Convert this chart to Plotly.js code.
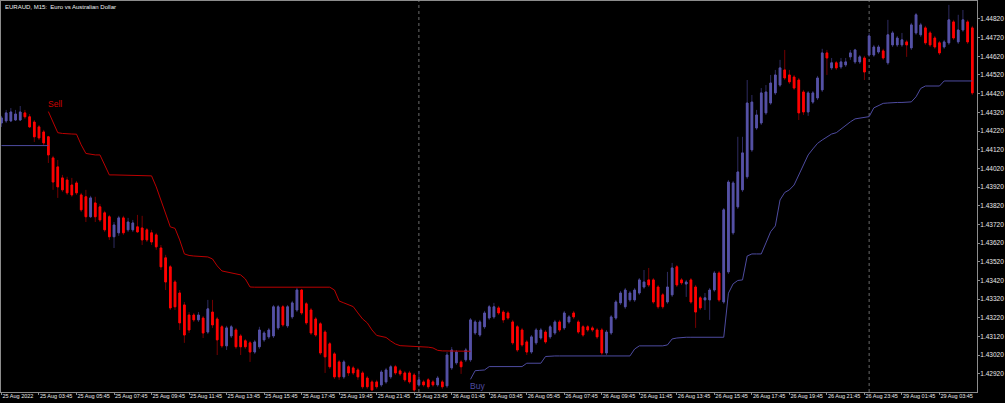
<!DOCTYPE html>
<html><head><meta charset="utf-8">
<script src="https://cdn.plot.ly/plotly-3.0.1.min.js"></script>
<style>html,body{margin:0;padding:0;background:#000;}#chart{width:1005px;height:403px;}</style>
</head><body><div id="chart"></div>
<script>
const openP = [1.44263,1.44274,1.44274,1.44279,1.44279,1.44317,1.44296,1.44268,1.44242,1.44215,
1.44189,1.44076,1.44028,1.43969,1.43958,1.43931,1.43942,1.43878,1.43868,1.43761,
1.43835,1.43814,1.43782,1.43761,1.43654,1.43675,1.43755,1.43691,1.43691,1.43707,
1.43701,1.43691,1.43675,1.43664,1.43594,1.43541,1.43493,1.43412,1.43353,1.43289,
1.43235,1.43235,1.43209,1.43219,1.43144,1.43251,1.43214,1.43172,1.43070,1.43123,
1.43155,1.43123,1.43097,1.43086,1.43037,1.43065,1.43102,1.43118,1.43123,1.43166,
1.43279,1.43177,1.43225,1.43262,1.43369,1.43295,1.43262,1.43214,1.43188,1.43144,
1.43081,1.43027,1.42984,1.42904,1.42958,1.42952,1.42941,1.42925,1.42898,1.42877,
1.42877,1.42861,1.42877,1.42904,1.42958,1.42936,1.42925,1.42925,1.42914,1.42861,
1.42877,1.42888,1.42877,1.42861,1.42877,1.42856,1.42952,1.42979,1.42984,1.42995,
1.42995,1.43139,1.43128,1.43172,1.43219,1.43225,1.43273,1.43251,1.43246,1.43198,
1.43172,1.43155,1.43091,1.43037,1.43086,1.43112,1.43144,1.43118,1.43139,1.43198,
1.43166,1.43198,1.43246,1.43198,1.43172,1.43172,1.43166,1.43155,1.43155,1.43032,
1.43139,1.43219,1.43300,1.43279,1.43316,1.43316,1.43353,1.43385,1.43423,1.43423,
1.43385,1.43343,1.43305,1.43343,1.43493,1.43423,1.43401,1.43423,1.43385,1.43327,
1.43316,1.43316,1.43369,1.43460,1.43305,1.43466,1.43675,1.43814,1.43905,1.43975,
1.44119,1.44236,1.44263,1.44317,1.44370,1.44424,1.44466,1.44547,1.44520,1.44509,
1.44493,1.44429,1.44322,1.44375,1.44397,1.44440,1.44638,1.44558,1.44585,1.44563,
1.44574,1.44617,1.44590,1.44590,1.44611,1.44627,1.44627,1.44643,1.44649,1.44585,
1.44681,1.44681,1.44681,1.44697,1.44665,1.44745,1.44735,1.44772,1.44745,1.44718,
1.44692,1.44670,1.44692,1.44804,1.44697,1.44761,1.44804,1.44772];

const highP = [1.44301,1.44333,1.44343,1.44333,1.44354,1.44333,1.44311,1.44279,1.44252,1.44226,
1.44194,1.44087,1.44065,1.43985,1.43975,1.43969,1.43953,1.43889,1.43905,1.43873,
1.43868,1.43830,1.43793,1.43771,1.43733,1.43766,1.43766,1.43755,1.43744,1.43771,
1.43766,1.43701,1.43691,1.43675,1.43610,1.43557,1.43503,1.43423,1.43369,1.43305,
1.43251,1.43246,1.43251,1.43230,1.43316,1.43316,1.43225,1.43182,1.43177,1.43182,
1.43166,1.43134,1.43107,1.43097,1.43102,1.43172,1.43150,1.43166,1.43289,1.43289,
1.43289,1.43289,1.43311,1.43380,1.43375,1.43305,1.43273,1.43225,1.43198,1.43155,
1.43091,1.43037,1.42995,1.42995,1.42968,1.42963,1.42952,1.42936,1.42909,1.42888,
1.42888,1.42941,1.42952,1.42968,1.42968,1.42947,1.42936,1.42936,1.42925,1.42936,
1.42888,1.42898,1.42888,1.42909,1.42888,1.43037,1.43064,1.43048,1.42995,1.43059,
1.43219,1.43209,1.43209,1.43257,1.43289,1.43300,1.43284,1.43262,1.43257,1.43209,
1.43182,1.43166,1.43102,1.43128,1.43166,1.43166,1.43155,1.43182,1.43209,1.43209,
1.43257,1.43235,1.43257,1.43209,1.43182,1.43182,1.43177,1.43166,1.43166,1.43155,
1.43235,1.43316,1.43364,1.43380,1.43364,1.43380,1.43433,1.43476,1.43487,1.43433,
1.43396,1.43353,1.43466,1.43514,1.43503,1.43433,1.43423,1.43433,1.43396,1.43337,
1.43353,1.43380,1.43471,1.43471,1.43808,1.43958,1.43953,1.44189,1.44189,1.44493,
1.44413,1.44333,1.44450,1.44466,1.44520,1.44547,1.44601,1.44654,1.44547,1.44520,
1.44504,1.44440,1.44434,1.44434,1.44515,1.44660,1.44654,1.44611,1.44595,1.44611,
1.44611,1.44654,1.44660,1.44627,1.44622,1.44745,1.44681,1.44681,1.44660,1.44815,
1.44756,1.44729,1.44745,1.44708,1.44799,1.44852,1.44799,1.44783,1.44756,1.44729,
1.44702,1.44708,1.44895,1.44815,1.44842,1.44868,1.44815,1.44783];

const lowP = [1.44242,1.44263,1.44268,1.44274,1.44274,1.44285,1.44236,1.44161,1.44172,1.44140,
1.44049,1.43905,1.43862,1.43894,1.43878,1.43868,1.43878,1.43787,1.43733,1.43755,
1.43733,1.43733,1.43680,1.43637,1.43594,1.43659,1.43664,1.43680,1.43680,1.43675,
1.43610,1.43626,1.43610,1.43584,1.43476,1.43369,1.43262,1.43262,1.43155,1.43086,
1.43139,1.43198,1.43198,1.43112,1.43134,1.43166,1.43021,1.43059,1.43048,1.43112,
1.43054,1.43021,1.43054,1.42984,1.43027,1.43054,1.43091,1.43107,1.43112,1.43155,
1.43172,1.43166,1.43214,1.43251,1.43235,1.43182,1.43128,1.43118,1.43021,1.42925,
1.42947,1.42893,1.42888,1.42893,1.42909,1.42914,1.42888,1.42840,1.42840,1.42829,
1.42840,1.42851,1.42867,1.42893,1.42914,1.42909,1.42877,1.42867,1.42823,1.42851,
1.42851,1.42840,1.42851,1.42851,1.42840,1.42845,1.42941,1.42968,1.42920,1.42984,
1.42984,1.43128,1.43118,1.43161,1.43209,1.43214,1.43235,1.43193,1.43209,1.43075,
1.43037,1.43065,1.43021,1.43027,1.43075,1.43102,1.43081,1.43107,1.43128,1.43144,
1.43155,1.43188,1.43214,1.43134,1.43118,1.43144,1.43144,1.43107,1.43021,1.43021,
1.43128,1.43209,1.43289,1.43268,1.43305,1.43305,1.43343,1.43375,1.43385,1.43295,
1.43268,1.43268,1.43295,1.43332,1.43385,1.43396,1.43332,1.43295,1.43166,1.43262,
1.43262,1.43209,1.43359,1.43305,1.43295,1.43455,1.43664,1.43803,1.43894,1.43964,
1.44108,1.44226,1.44252,1.44306,1.44360,1.44413,1.44456,1.44493,1.44472,1.44440,
1.44279,1.44306,1.44301,1.44365,1.44386,1.44429,1.44520,1.44547,1.44547,1.44552,
1.44563,1.44601,1.44579,1.44579,1.44493,1.44617,1.44617,1.44633,1.44601,1.44574,
1.44670,1.44670,1.44670,1.44617,1.44654,1.44735,1.44724,1.44681,1.44670,1.44660,
1.44627,1.44660,1.44681,1.44708,1.44686,1.44751,1.44686,1.44413];

const closeP = [1.44290,1.44317,1.44322,1.44311,1.44322,1.44296,1.44242,1.44189,1.44183,1.44156,
1.44092,1.43947,1.43921,1.43905,1.43889,1.43878,1.43889,1.43798,1.43761,1.43862,
1.43761,1.43744,1.43691,1.43654,1.43717,1.43755,1.43675,1.43733,1.43728,1.43680,
1.43637,1.43637,1.43626,1.43600,1.43493,1.43412,1.43273,1.43279,1.43193,1.43128,
1.43155,1.43209,1.43235,1.43139,1.43268,1.43182,1.43102,1.43070,1.43166,1.43172,
1.43065,1.43065,1.43065,1.43037,1.43091,1.43155,1.43139,1.43155,1.43279,1.43279,
1.43182,1.43279,1.43300,1.43369,1.43246,1.43193,1.43139,1.43128,1.43032,1.43011,
1.42958,1.42904,1.42904,1.42984,1.42925,1.42925,1.42904,1.42851,1.42851,1.42834,
1.42851,1.42930,1.42941,1.42958,1.42925,1.42920,1.42888,1.42877,1.42834,1.42888,
1.42861,1.42851,1.42861,1.42898,1.42851,1.43021,1.43048,1.43037,1.42958,1.43048,
1.43209,1.43198,1.43198,1.43246,1.43279,1.43279,1.43246,1.43209,1.43219,1.43086,
1.43048,1.43075,1.43037,1.43118,1.43155,1.43155,1.43091,1.43172,1.43198,1.43155,
1.43246,1.43225,1.43225,1.43144,1.43128,1.43155,1.43155,1.43118,1.43032,1.43144,
1.43225,1.43305,1.43353,1.43369,1.43353,1.43369,1.43423,1.43412,1.43396,1.43305,
1.43279,1.43279,1.43385,1.43487,1.43396,1.43407,1.43412,1.43305,1.43251,1.43273,
1.43327,1.43369,1.43460,1.43316,1.43798,1.43947,1.43942,1.44001,1.44103,1.44370,
1.44375,1.44306,1.44424,1.44429,1.44477,1.44520,1.44558,1.44504,1.44483,1.44450,
1.44317,1.44322,1.44424,1.44424,1.44504,1.44638,1.44611,1.44585,1.44558,1.44590,
1.44590,1.44638,1.44654,1.44617,1.44536,1.44729,1.44670,1.44670,1.44611,1.44735,
1.44745,1.44718,1.44708,1.44681,1.44788,1.44842,1.44788,1.44692,1.44681,1.44670,
1.44638,1.44697,1.44815,1.44718,1.44761,1.44815,1.44697,1.44424];

// trailing-stop indicator: "Sell" line (bars 10..100)
const sellStart = 10;
const sellValues = [1.44324,1.44269,1.44211,1.44207,1.44204,1.44204,1.44203,1.44146,1.44100,1.44095,
1.44092,1.44092,1.44039,1.43985,1.43985,1.43984,1.43984,1.43983,1.43983,1.43982,
1.43981,1.43980,1.43980,1.43921,1.43851,1.43776,1.43707,1.43699,1.43637,1.43562,
1.43554,1.43551,1.43549,1.43546,1.43546,1.43535,1.43498,1.43471,1.43466,1.43460,
1.43459,1.43450,1.43428,1.43385,1.43384,1.43384,1.43384,1.43384,1.43384,1.43384,
1.43384,1.43384,1.43384,1.43384,1.43384,1.43384,1.43384,1.43384,1.43384,1.43384,
1.43384,1.43369,1.43310,1.43300,1.43292,1.43280,1.43246,1.43214,1.43193,1.43155,
1.43126,1.43120,1.43115,1.43096,1.43080,1.43071,1.43070,1.43067,1.43064,1.43063,
1.43063,1.43063,1.43059,1.43046,1.43043,1.43043,1.43043,1.43041,1.43041,1.43041,
1.43041];

// "Buy" line: two segments
const buyStartA = 0;
const buyValuesA = [1.44142,1.44142,1.44142,1.44142,1.44142,1.44142,1.44142,1.44142,1.44142,1.44142,1.44142];
const buyStartB = 100;
const buyValuesB = [1.42891,1.42937,1.42939,1.42941,1.42959,1.42959,1.42959,1.42959,1.42959,1.42959,
1.42959,1.42959,1.42977,1.42977,1.42977,1.42977,1.43013,1.43016,1.43016,1.43016,
1.43016,1.43016,1.43016,1.43016,1.43016,1.43016,1.43016,1.43016,1.43016,1.43016,
1.43016,1.43016,1.43016,1.43016,1.43016,1.43053,1.43070,1.43070,1.43070,1.43070,
1.43070,1.43070,1.43075,1.43107,1.43112,1.43116,1.43116,1.43116,1.43116,1.43116,
1.43116,1.43116,1.43116,1.43116,1.43116,1.43352,1.43402,1.43420,1.43423,1.43551,
1.43562,1.43562,1.43562,1.43621,1.43681,1.43712,1.43851,1.43891,1.43905,1.43931,
1.43985,1.44039,1.44092,1.44124,1.44154,1.44172,1.44186,1.44204,1.44211,1.44231,
1.44247,1.44269,1.44285,1.44290,1.44295,1.44297,1.44344,1.44357,1.44368,1.44370,
1.44373,1.44373,1.44373,1.44373,1.44376,1.44403,1.44448,1.44461,1.44461,1.44461,
1.44461,1.44488,1.44488,1.44488,1.44488,1.44488,1.44488,1.44488];

const tickBars = [0,8,16,24,32,40,48,56,64,72,80,88,96,104,112,120,128,136,144,152,160,168,176,184,192,200];
const tickLabels = ['25 Aug 2022','25 Aug 03:45','25 Aug 05:45','25 Aug 07:45','25 Aug 09:45','25 Aug 11:45',
'25 Aug 13:45','25 Aug 15:45','25 Aug 17:45','25 Aug 19:45','25 Aug 21:45','25 Aug 23:45',
'26 Aug 01:45','26 Aug 03:45','26 Aug 05:45','26 Aug 07:45','26 Aug 09:45','26 Aug 11:45',
'26 Aug 13:45','26 Aug 15:45','26 Aug 17:45','26 Aug 19:45','26 Aug 21:45','26 Aug 23:45',
'29 Aug 01:45','29 Aug 03:45'];
const priceTicks = [1.42920,1.43020,1.43120,1.43220,1.43320,1.43420,1.43520,1.43620,1.43720,1.43820,
1.43920,1.44020,1.44120,1.44220,1.44320,1.44420,1.44520,1.44620,1.44720,1.44820];
const daySeparators = [89, 185];
const chartTitle = 'EURAUD, M15:\u00a0 Euro vs Australian Dollar';

const n = openP.length;
const idx = Array.from({length: n}, (_, i) => i);
// body-only series (wicks are drawn by a separate trace underneath)
const minBody = 0.000025;
const bOpen = [], bClose = [], bHigh = [], bLow = [];
for (let i = 0; i < n; i++) {
  const o = openP[i];
  let c = closeP[i];
  if (Math.abs(c - o) < minBody) c = o + (c >= o ? minBody : -minBody);
  bOpen.push(o); bClose.push(c); bHigh.push(Math.max(o, c)); bLow.push(Math.min(o, c));
}
function seg(start, vals) { return {x: vals.map((_, k) => start + k), y: vals}; }
const sellSeg = seg(sellStart, sellValues);
const buyA = seg(buyStartA, buyValuesA), buyB = seg(buyStartB, buyValuesB);

const BULL = '#5652a6', BEAR = '#ff0000';
const FONT = 'Liberation Sans, Arial, sans-serif';

const traces = [
  {type: 'candlestick', x: idx, open: openP, high: highP, low: lowP, close: closeP,
   increasing: {line: {color: '#2e2b60', width: 1}, fillcolor: '#2e2b60'},
   decreasing: {line: {color: '#740000', width: 1}, fillcolor: '#740000'},
   whiskerwidth: 0, hoverinfo: 'skip', showlegend: false},
  {type: 'candlestick', x: idx, open: bOpen, high: bHigh, low: bLow, close: bClose,
   increasing: {line: {color: BULL, width: 1}, fillcolor: BULL},
   decreasing: {line: {color: BEAR, width: 1}, fillcolor: BEAR},
   whiskerwidth: 0, hoverinfo: 'skip', showlegend: false},
  {type: 'scatter', mode: 'lines', x: sellSeg.x, y: sellSeg.y,
   line: {color: '#bb0000', width: 1}, hoverinfo: 'skip', showlegend: false},
  {type: 'scatter', mode: 'lines', x: [...buyA.x, null, ...buyB.x], y: [...buyA.y, null, ...buyB.y],
   connectgaps: false, line: {color: '#4e4ba0', width: 1}, hoverinfo: 'skip', showlegend: false}
];

const layout = {
  width: 1005, height: 403,
  margin: {l: 1, r: 28, t: 1, b: 11, pad: 0},
  paper_bgcolor: '#000000', plot_bgcolor: '#000000',
  showlegend: false, boxgap: 0.5, boxmode: 'overlay',
  xaxis: {
    range: [-0.1, 208.0], rangeslider: {visible: false},
    showgrid: false, zeroline: false, showline: true, mirror: true,
    linecolor: '#8c8c8c', linewidth: 1,
    tickmode: 'array', tickvals: tickBars, ticktext: tickLabels, tickangle: 0,
    ticks: 'outside', ticklen: 2, tickcolor: '#8c8c8c',
    ticklabelposition: 'outside right', ticklabelstandoff: -2,
    tickfont: {family: FONT, size: 5.5, color: '#e8e8e8'},
    fixedrange: true
  },
  yaxis: {
    side: 'right', range: [1.42823, 1.44916],
    showgrid: false, zeroline: false, showline: true, mirror: true,
    linecolor: '#8c8c8c', linewidth: 1,
    tickmode: 'array', tickvals: priceTicks, tickformat: '.5f',
    ticks: 'outside', ticklen: 2, tickcolor: '#8c8c8c', ticklabelstandoff: -1,
    tickfont: {family: FONT, size: 6.5, color: '#e8e8e8'},
    fixedrange: true
  },
  shapes: daySeparators.map(s => ({type: 'line', xref: 'x', yref: 'paper', x0: s, x1: s, y0: 0, y1: 1,
    layer: 'below', line: {color: '#6a6a6a', width: 1, dash: 'dot'}})),
  annotations: [
    {xref: 'paper', yref: 'paper', x: 0, y: 1, xanchor: 'left', yanchor: 'top', xshift: 2, yshift: -1,
     text: chartTitle, showarrow: false, font: {family: FONT, size: 6, color: '#f0f0f0'}},
    {xref: 'x', yref: 'y', x: sellSeg.x[0], y: sellSeg.y[0], xanchor: 'left', yanchor: 'bottom',
     xshift: -2, yshift: 1, text: 'Sell', showarrow: false, font: {family: FONT, size: 8.5, color: '#d00000'}},
    {xref: 'x', yref: 'y', x: buyB.x[0], y: buyB.y[0], xanchor: 'left', yanchor: 'top',
     xshift: -2, yshift: 0, text: 'Buy', showarrow: false, font: {family: FONT, size: 8.5, color: '#4e4ba0'}}
  ]
};

Plotly.newPlot('chart', traces, layout, {staticPlot: true, displayModeBar: false});
</script>
</body></html>
